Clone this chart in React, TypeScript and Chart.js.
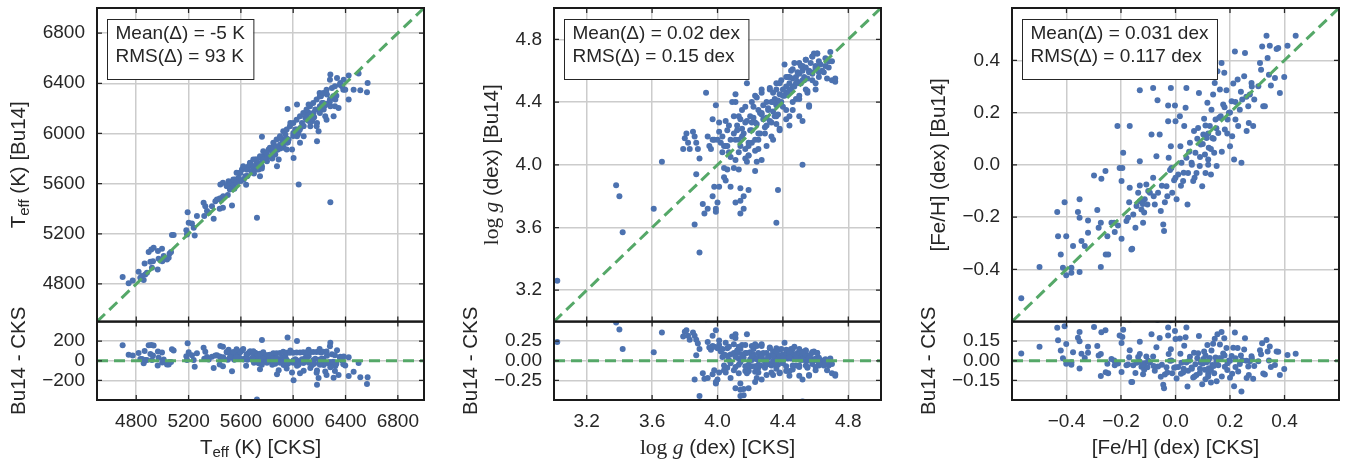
import React, { useEffect, useRef } from 'react';
import Chart from 'chart.js/auto';

// [CKS, Bu14] pairs
const teffPairs = [
  [4696, 4855], [4742, 4805], [4773, 4828], [4818, 4897], [4857, 4831], [4844, 4863], [4864, 4964], [4882, 4890], [4895, 5054], [4915, 5075],
  [4933, 5089], [4908, 4977], [4928, 4982], [4964, 4916], [4971, 5001], [4966, 5062], [4997, 5081], [5010, 5022], [5035, 4996], [5048, 5009],
  [5055, 5043], [5066, 5054], [4999, 4982], [4920, 4929], [4831, 4850], [4869, 4876], [5073, 5190], [5086, 5190], [5183, 5229], [5193, 5372],
  [5201, 5288], [5226, 5282], [5188, 5195], [5247, 5187], [5239, 5248], [5264, 5341], [5315, 5447], [5328, 5420], [5341, 5381], [5354, 5367],
  [5320, 5341], [5392, 5319], [5379, 5420], [5405, 5460], [5417, 5473], [5438, 5481], [5456, 5487], [5463, 5407], [5438, 5399], [5532, 5426],
  [5443, 5593], [5463, 5606], [5494, 5580], [5506, 5619], [5519, 5601], [5532, 5566], [5545, 5593], [5557, 5633], [5570, 5606], [5583, 5646],
  [5596, 5686], [5608, 5712], [5621, 5633], [5634, 5659], [5647, 5712], [5659, 5739], [5672, 5766], [5685, 5699], [5698, 5739], [5710, 5792],
  [5723, 5766], [5736, 5712], [5749, 5805], [5761, 5739], [5774, 5819], [5787, 5845], [5799, 5779], [5812, 5872], [5825, 5819], [5838, 5858],
  [5850, 5898], [5863, 5832], [5876, 5739], [5889, 5792], [5901, 5911], [5914, 5951], [5927, 5885], [5940, 5991], [5952, 5925], [5965, 5951],
  [5978, 6084], [5991, 5872], [6003, 5805], [6016, 6031], [6029, 5978], [6042, 5593], [6284, 5452], [5723, 5328], [5761, 5973], [6054, 6044],
  [6067, 6084], [6080, 5978], [6093, 6124], [6105, 6150], [6118, 6230], [6131, 6058], [6143, 6097], [6156, 6164], [6169, 6190], [6182, 5938],
  [6194, 6018], [6202, 6323], [6212, 6296], [6220, 6243], [6233, 6190], [6245, 6137], [6258, 6310], [6271, 6243], [6284, 6469], [6296, 6363],
  [6309, 6137], [6322, 6270], [6335, 6442], [6347, 6203], [6360, 6402], [6373, 6376], [6386, 6429], [6398, 6349], [6424, 6461], [6424, 6270],
  [6462, 6349], [6500, 6477], [6513, 6344], [6564, 6328], [6569, 6402], [5957, 6195], [6029, 6230], [6118, 6164], [6182, 6084], [6284, 6217],
  [5600, 5620], [5640, 5590], [5680, 5700], [5720, 5740], [5760, 5720], [5800, 5820], [5840, 5800], [5880, 5870], [5920, 5900], [5960, 5930],
  [6000, 5980], [6040, 6000], [6080, 6060], [6120, 6100], [6160, 6130], [6200, 6180], [6240, 6220], [6280, 6250], [5550, 5560], [5500, 5510],
  [5450, 5470], [5650, 5660], [5700, 5680], [5750, 5760], [5850, 5830], [5900, 5880], [5950, 5960], [6050, 6030], [6150, 6120], [6250, 6230],
  [6300, 6280], [6330, 6300],
  [5491, 5580], [5542, 5633], [5593, 5686], [5644, 5712], [5669, 5765], [5695, 5739], [5720, 5792], [5746, 5818], [5771, 5858], [5797, 5845],
  [5822, 5885], [5848, 5925], [5873, 5951], [5899, 5978], [5924, 6017], [5950, 6031], [5975, 6057], [6001, 6084], [6026, 6110], [6052, 6137],
  [6077, 6163], [6102, 6190], [6128, 6216], [6153, 6243], [6179, 6270], [6204, 6296], [6230, 6323], [6255, 6349], [5567, 5686], [5618, 5739],
  [5695, 5792], [5771, 5792], [5848, 5871], [5924, 5925], [6001, 6004], [6077, 6057], [6153, 6137], [6204, 6163], [6230, 6243], [6281, 6270],
  [6306, 6296], [6204, 6216], [6102, 6110], [6026, 6031], [5950, 5951], [5873, 5898], [5797, 5792], [5720, 5712], [5644, 5659], [5567, 5606],
  [5516, 5553], [5465, 5500], [6281, 6429], [6319, 6376], [6357, 6389], [6383, 6349], [5950, 5871], [6052, 5925], [6179, 6057], [5746, 5659],
  [6255, 6110], [6319, 6216],
];

const loggPairs = [
  [3.93, 4.46], [3.66, 4.02], [3.38, 3.87], [3.40, 3.80], [3.80, 4.17], [3.81, 4.20], [3.85, 4.21], [3.86, 4.18], [3.87, 4.14], [3.82, 4.14],
  [3.79, 4.10], [3.83, 4.10], [3.88, 4.10], [3.89, 4.04], [3.94, 4.18], [3.95, 4.12], [3.96, 4.10], [3.99, 4.38], [3.97, 4.29], [3.98, 4.16],
  [4.00, 4.16], [4.01, 4.21], [4.02, 4.14], [4.03, 4.18], [4.04, 4.12], [4.05, 4.28], [4.06, 4.22], [4.07, 4.08], [4.08, 4.16], [4.10, 4.31],
  [4.11, 4.40], [4.11, 4.45], [4.12, 4.22], [4.13, 4.16], [4.14, 4.29], [4.15, 4.35], [4.16, 4.20], [4.17, 4.27], [4.18, 4.52], [4.19, 4.12],
  [4.20, 4.31], [4.21, 4.22], [4.22, 4.37], [4.23, 4.27], [4.24, 4.43], [4.25, 4.16], [4.26, 4.33], [4.27, 4.48], [4.28, 4.29], [4.29, 4.20],
  [4.30, 4.40], [4.31, 4.35], [4.32, 4.49], [4.33, 4.27], [4.34, 4.46], [4.35, 4.31], [4.36, 4.52], [4.37, 4.41], [4.38, 4.22], [4.39, 4.54],
  [4.40, 4.37], [4.41, 4.64], [4.42, 4.46], [4.43, 4.56], [4.44, 4.31], [4.45, 4.60], [4.46, 4.50], [4.47, 4.65], [4.48, 4.42], [4.49, 4.59],
  [4.50, 4.52], [4.51, 4.63], [4.52, 4.28], [4.53, 4.54], [4.54, 4.67], [4.55, 4.46], [4.56, 4.38], [4.57, 4.59], [4.58, 4.69], [4.59, 4.71],
  [4.60, 4.63], [4.61, 4.71], [4.62, 4.56], [4.63, 4.64], [4.65, 4.59], [4.67, 4.55], [4.68, 4.66], [4.69, 4.72], [4.70, 4.54], [4.72, 4.53],
  [4.52, 4.00], [4.17, 4.04], [4.18, 4.02], [4.23, 3.96], [4.24, 4.02], [4.27, 4.03], [4.04, 3.98], [4.06, 3.97], [4.10, 3.98], [4.13, 3.97],
  [3.42, 3.57], [3.61, 3.72], [3.02, 3.26], [3.89, 3.44], [3.86, 3.62], [3.91, 3.75], [3.92, 3.69], [3.94, 3.72], [3.87, 3.94], [3.97, 3.80],
  [3.98, 3.86], [4.01, 3.86], [3.99, 3.72], [3.99, 3.70], [4.00, 3.76], [4.04, 3.92], [4.05, 3.90], [4.08, 3.86], [4.11, 3.76], [4.14, 3.85],
  [4.14, 3.77], [4.16, 3.80], [4.16, 3.72], [4.14, 3.69], [4.19, 3.84], [4.37, 3.84], [4.36, 3.63],
  [4.10, 4.20], [4.12, 4.25], [4.15, 4.18], [4.18, 4.28], [4.20, 4.22], [4.22, 4.30], [4.24, 4.26], [4.25, 4.35], [4.27, 4.32], [4.28, 4.38],
  [4.30, 4.30], [4.31, 4.36], [4.32, 4.28], [4.33, 4.40], [4.34, 4.34], [4.35, 4.42], [4.36, 4.38], [4.37, 4.32], [4.38, 4.45], [4.39, 4.40],
  [4.40, 4.48], [4.41, 4.44], [4.42, 4.50], [4.43, 4.46], [4.44, 4.52], [4.45, 4.48], [4.46, 4.55], [4.47, 4.50], [4.48, 4.56], [4.49, 4.53],
  [4.50, 4.58], [4.51, 4.52], [4.52, 4.60], [4.53, 4.56], [4.54, 4.62], [4.55, 4.55], [4.56, 4.60], [4.57, 4.65], [4.58, 4.58], [4.60, 4.62],
  [4.62, 4.66], [4.64, 4.60], [4.66, 4.68], [4.68, 4.62], [4.70, 4.66], [4.72, 4.55], [4.26, 4.20], [4.29, 4.24], [4.21, 4.14], [4.17, 4.10],
  [4.14, 4.12], [4.08, 4.05], [4.06, 4.12], [4.03, 4.08], [4.11, 4.03], [4.19, 4.06], [4.23, 4.09], [4.33, 4.18], [4.36, 4.26], [4.42, 4.35],
  [4.46, 4.40], [4.50, 4.44], [4.55, 4.47], [4.60, 4.52],
  [4.09, 4.40], [4.13, 4.31], [4.17, 4.37], [4.21, 4.27], [4.23, 4.44], [4.25, 4.20], [4.27, 4.33], [4.30, 4.25], [4.32, 4.48], [4.34, 4.40],
  [4.36, 4.31], [4.38, 4.52], [4.40, 4.44], [4.42, 4.56], [4.44, 4.48], [4.46, 4.61], [4.48, 4.52], [4.50, 4.65], [4.52, 4.54], [4.54, 4.67],
  [4.56, 4.59], [4.58, 4.69], [4.60, 4.61], [4.61, 4.71], [4.07, 4.25], [4.11, 4.16], [4.15, 4.23], [4.19, 4.14], [4.23, 4.16], [4.01, 4.27],
  [3.97, 4.16], [4.05, 4.12], [4.30, 4.12], [4.34, 4.16], [4.38, 4.23], [4.42, 4.29], [4.46, 4.35], [4.50, 4.42], [4.54, 4.48], [4.58, 4.54],
  [4.62, 4.59], [4.66, 4.63], [4.21, 4.40], [4.27, 4.46], [4.36, 4.48], [4.44, 4.56], [4.52, 4.63], [4.13, 4.08], [4.19, 4.06], [4.25, 4.10],
  [4.44, 4.25], [4.50, 4.31], [4.56, 4.37], [4.60, 4.48],
];

const fehPairs = [
  [-0.566, -0.511], [-0.499, -0.391], [-0.434, -0.181], [-0.407, -0.143], [-0.352, -0.132], [-0.358, -0.181], [-0.352, -0.203], [-0.401, -0.273], [-0.431, -0.273], [-0.421, -0.343],
  [-0.413, -0.394], [-0.401, -0.423], [-0.382, -0.394], [-0.382, -0.413], [-0.352, -0.410], [-0.376, -0.311], [-0.345, -0.292], [-0.333, -0.311], [-0.321, -0.213], [-0.321, -0.260],
  [-0.287, -0.173], [-0.282, -0.241], [-0.274, -0.222], [-0.274, -0.391], [-0.299, -0.041], [-0.272, -0.053], [-0.257, -0.024], [-0.256, -0.343], [-0.247, -0.343], [-0.250, -0.273],
  [-0.235, -0.222], [-0.225, -0.222], [-0.223, -0.257], [-0.211, -0.232], [-0.195, -0.012], [-0.198, -0.062], [-0.198, -0.283], [-0.180, -0.215], [-0.174, -0.203], [-0.170, -0.143],
  [-0.168, -0.088], [-0.162, -0.324], [-0.155, -0.190], [-0.147, -0.241], [-0.143, -0.158], [-0.137, -0.107], [-0.131, 0.014], [-0.131, -0.079], [-0.131, -0.139], [-0.125, -0.171],
  [-0.119, -0.222], [-0.115, -0.183], [-0.113, -0.132], [-0.107, -0.075], [-0.103, -0.152], [-0.094, -0.107], [-0.088, 0.116], [-0.082, -0.050], [-0.076, -0.152], [-0.070, 0.033],
  [-0.066, 0.247], [-0.064, -0.107], [-0.058, 0.116], [-0.054, -0.177], [-0.045, -0.228], [-0.042, -0.253], [-0.039, -0.143], [-0.033, -0.082], [-0.027, 0.167], [-0.027, 0.227],
  [-0.025, 0.027], [-0.017, 0.071], [-0.015, -0.012], [-0.012, -0.107], [-0.005, -0.059], [-0.002, 0.227], [0.000, 0.167], [0.004, -0.132], [0.010, -0.037], [0.016, 0.186],
  [0.018, 0.071], [0.022, 0.008], [0.028, -0.062], [0.032, 0.148], [0.037, 0.218], [0.040, 0.027], [0.040, 0.294], [0.044, -0.152], [0.046, -0.031], [0.053, 0.084],
  [0.059, 0.008], [0.065, -0.062], [0.068, 0.129], [0.073, 0.046], [0.077, -0.031], [0.083, 0.141], [0.086, 0.275], [0.089, -0.005], [0.093, 0.078], [0.098, -0.082],
  [0.102, 0.116], [0.105, 0.176], [0.108, 0.039], [0.110, -0.031], [0.114, 0.103], [0.117, 0.237], [0.120, 0.020], [0.122, 0.065], [0.126, 0.148], [0.130, -0.037],
  [0.132, 0.211], [0.135, 0.103], [0.138, 0.269], [0.142, 0.046], [0.144, 0.313], [0.147, 0.173], [0.151, -0.005], [0.154, 0.358], [0.157, 0.122], [0.163, 0.288],
  [0.166, 0.186], [0.169, 0.390], [0.175, 0.231], [0.179, 0.352], [0.181, 0.135], [0.187, 0.285], [0.191, 0.173], [0.196, 0.199], [0.200, 0.071], [0.206, 0.243],
  [0.208, 0.109], [0.212, 0.311], [0.215, 0.020], [0.218, 0.434], [0.220, 0.173], [0.228, 0.326], [0.230, 0.148], [0.236, 0.211], [0.242, 0.008], [0.245, 0.250],
  [0.252, 0.339], [0.255, 0.428], [0.261, 0.129], [0.267, 0.224], [0.269, 0.160], [0.273, 0.269], [0.279, 0.313], [0.285, 0.148], [0.289, 0.250], [0.304, 0.301],
  [0.310, 0.390], [0.314, 0.364], [0.318, 0.453], [0.322, 0.224], [0.328, 0.224], [0.334, 0.494], [0.338, 0.409], [0.343, 0.345], [0.346, 0.456], [0.350, 0.303],
  [0.365, 0.332], [0.371, 0.443], [0.377, 0.447], [0.383, 0.275], [0.399, 0.336], [0.411, 0.456], [0.441, 0.494], [-0.131, 0.285], [-0.082, 0.294], [-0.017, 0.294],
  [-0.213, 0.148], [-0.168, 0.148], [-0.192, 0.046], [-0.205, -0.012], [-0.159, -0.321],
  [0.05, 0.05], [0.08, 0.10], [0.10, 0.08], [0.12, 0.12], [0.13, 0.06], [0.11, 0.15], [0.09, 0.03], [0.06, 0.00], [0.03, -0.03], [0.00, -0.05],
  [-0.02, -0.02], [-0.05, -0.08], [-0.08, -0.12], [-0.10, -0.10], [-0.12, -0.15], [0.14, 0.10], [0.15, 0.14], [0.16, 0.18], [0.18, 0.22], [0.20, 0.20],
  [0.22, 0.24], [0.24, 0.28], [0.26, 0.26], [0.28, 0.30], [0.17, 0.05], [0.12, 0.00], [0.07, -0.05], [0.02, -0.08], [-0.03, -0.12], [0.19, 0.12],
];

const teffRange = [4500, 7000];
const teffTicks = [4800, 5200, 5600, 6000, 6400, 6800];
const teffDiffRange = [-400, 400];
const teffDiffTicks = [-200, 0, 200];
const teffStats = ['Mean(\u0394) = -5 K', 'RMS(\u0394) = 93 K'];

const loggRange = [3.0, 5.0];
const loggTicks = [3.2, 3.6, 4.0, 4.4, 4.8];
const loggDiffRange = [-0.5, 0.5];
const loggDiffTicks = [-0.25, 0, 0.25];
const loggStats = ['Mean(\u0394) = 0.02 dex', 'RMS(\u0394) = 0.15 dex'];

const fehRange = [-0.6, 0.6];
const fehTicks = [-0.4, -0.2, 0, 0.2, 0.4];
const fehDiffRange = [-0.3, 0.3];
const fehDiffTicks = [-0.15, 0, 0.15];
const fehStats = ['Mean(\u0394) = 0.031 dex', 'RMS(\u0394) = 0.117 dex'];

const BLUE = '#4c72b0';
const GREEN = '#55a868';
const GRID = '#cccccc';
const INK = '#262626';
const SANS = '"Liberation Sans", Arial, sans-serif';
const SERIF = '"Liberation Serif", "DejaVu Serif", serif';
const FS = 19;
const TS = 20.5;

type Seg = { t: string; kind?: 'serif' | 'italic' | 'sub' };

const fmt = (v: number, digits: number) => {
  const s = Math.abs(v).toFixed(digits);
  return v < -1e-9 ? '\u2212' + s : s;
};

const segFont = (s: Seg) => {
  if (s.kind === 'serif') return `${TS + 1}px ${SERIF}`;
  if (s.kind === 'italic') return `italic ${TS + 1}px ${SERIF}`;
  if (s.kind === 'sub') return `${Math.round(TS * 0.72)}px ${SANS}`;
  return `${TS}px ${SANS}`;
};

function drawRich(ctx: CanvasRenderingContext2D, segs: Seg[], cx: number, cy: number, vertical: boolean) {
  ctx.save();
  ctx.translate(cx, cy);
  if (vertical) ctx.rotate(-Math.PI / 2);
  ctx.textBaseline = 'middle';
  ctx.textAlign = 'left';
  ctx.fillStyle = INK;
  const widths = segs.map((s) => {
    ctx.font = segFont(s);
    return ctx.measureText(s.t).width;
  });
  let x = -widths.reduce((a, b) => a + b, 0) / 2;
  segs.forEach((s, i) => {
    ctx.font = segFont(s);
    ctx.fillText(s.t, x, s.kind === 'sub' ? 5 : 0);
    x += widths[i];
  });
  ctx.restore();
}

interface PanelProps {
  left: number;
  width: number;
  axisWidth: number;
  pairs: number[][];
  range: number[];
  ticks: number[];
  diffRange: number[];
  diffTicks: number[];
  digits: number;
  diffDigits: number;
  stats: string[];
  xTitle: Seg[];
  yTitle: Seg[];
}

const diffTitle: Seg[] = [{ t: 'Bu14 - CKS' }];

function makeDecor(p: PanelProps) {
  return {
    id: 'decor',
    afterDraw(chart: any) {
      const ctx: CanvasRenderingContext2D = chart.ctx;
      const xs = chart.scales.x;
      const ym = chart.scales.y;
      const yd = chart.scales.yDiff;
      const L = xs.left;
      const R = xs.right;
      ctx.save();

      // inward tick marks on every side
      ctx.strokeStyle = INK;
      ctx.lineWidth = 1.25;
      ctx.beginPath();
      for (const t of xs.ticks) {
        const px = xs.getPixelForValue(t.value);
        const edges: [number, number][] = [[ym.top, 1], [ym.bottom, -1], [yd.top, 1], [yd.bottom, -1]];
        for (const [yy, dir] of edges) {
          ctx.moveTo(px, yy);
          ctx.lineTo(px, yy + dir * 5);
        }
      }
      for (const sc of [ym, yd]) {
        for (const t of sc.ticks) {
          const py = sc.getPixelForValue(t.value);
          ctx.moveTo(L, py);
          ctx.lineTo(L + 5, py);
          ctx.moveTo(R, py);
          ctx.lineTo(R - 5, py);
        }
      }
      ctx.stroke();

      // stats box
      ctx.font = `${FS}px ${SANS}`;
      const tw = Math.max(...p.stats.map((s) => ctx.measureText(s).width));
      const bx = L + 10;
      const by = ym.top + 11;
      ctx.fillStyle = '#ffffff';
      ctx.fillRect(bx, by, tw + 17, 60);
      ctx.lineWidth = 1;
      ctx.strokeStyle = INK;
      ctx.strokeRect(bx + 0.5, by + 0.5, tw + 17, 60);
      ctx.fillStyle = INK;
      ctx.textBaseline = 'middle';
      ctx.textAlign = 'left';
      p.stats.forEach((s, i) => ctx.fillText(s, bx + 8.5, by + 15 + i * 23));

      // frames
      ctx.lineWidth = 2;
      ctx.strokeStyle = '#1a1a1a';
      ctx.strokeRect(L, ym.top, R - L, ym.bottom - ym.top);
      ctx.strokeRect(L, yd.top, R - L, yd.bottom - yd.top);

      // axis titles, placed clear of the widest tick label
      const widest = (sc: any) => {
        ctx.font = `${FS}px ${SANS}`;
        return Math.max(...sc.ticks.map((t: any) => ctx.measureText(String(t.label)).width));
      };
      drawRich(ctx, p.yTitle, L - widest(ym) - 35, (ym.top + ym.bottom) / 2, true);
      drawRich(ctx, diffTitle, L - widest(yd) - 35, (yd.top + yd.bottom) / 2, true);
      drawRich(ctx, p.xTitle, (L + R) / 2, xs.top + 48, false);
      ctx.restore();
    },
  };
}

const Panel: React.FC<PanelProps> = (p) => {
  const chartRef = useRef<HTMLCanvasElement>(null);

  useEffect(() => {
    if (!chartRef.current) return;
    const context = chartRef.current.getContext('2d');
    if (!context) return;

    const tickFont = { family: SANS, size: FS };
    const noPad = (s: any) => {
      s.paddingTop = 0;
      s.paddingBottom = 0;
      s.paddingLeft = 0;
      s.paddingRight = 0;
    };
    const axis = (min: number, max: number, ticks: number[], digits: number, pad: number) => ({
      type: 'linear' as const,
      min,
      max,
      afterBuildTicks: (s: any) => {
        s.ticks = ticks.map((v) => ({ value: v }));
      },
      grid: { color: GRID, lineWidth: 1.5, drawTicks: false },
      border: { display: false },
      ticks: {
        color: INK,
        font: tickFont,
        padding: pad,
        autoSkip: false,
        maxRotation: 0,
        callback: (v: any) => fmt(Number(v), digits),
      },
    });
    const dashed = {
      showLine: true,
      pointRadius: 0,
      borderColor: GREEN,
      borderWidth: 3,
      borderDash: [11, 6],
      order: 0,
    };
    const dots = {
      pointRadius: 3,
      pointHoverRadius: 3,
      pointBackgroundColor: BLUE,
      pointBorderWidth: 0,
      order: 1,
    };

    const chart = new Chart(context, {
      type: 'scatter',
      data: {
        datasets: [
          {
            ...dashed,
            data: [{ x: p.range[0], y: p.range[0] }, { x: p.range[1], y: p.range[1] }],
            yAxisID: 'y',
          },
          {
            ...dashed,
            data: [{ x: p.range[0], y: 0 }, { x: p.range[1], y: 0 }],
            yAxisID: 'yDiff',
          },
          {
            ...dots,
            data: p.pairs.map(([c, b]) => ({ x: c, y: b })),
            yAxisID: 'y',
          },
          {
            ...dots,
            data: p.pairs.map(([c, b]) => ({ x: c, y: b - c })),
            yAxisID: 'yDiff',
          },
        ],
      },
      options: {
        animation: false,
        responsive: false,
        events: [],
        layout: { padding: { top: 8, right: p.width - p.axisWidth - 327, bottom: 1, left: 0 } },
        plugins: { legend: { display: false }, tooltip: { enabled: false } },
        scales: {
          x: {
            ...axis(p.range[0], p.range[1], p.ticks, p.digits, 10),
            position: 'bottom',
            afterFit: (s: any) => {
              s.height = 62;
              noPad(s);
            },
          },
          yDiff: {
            ...axis(p.diffRange[0], p.diffRange[1], p.diffTicks, p.diffDigits, 12),
            position: 'left',
            stack: 'panel',
            stackWeight: 1,
            afterFit: (s: any) => {
              s.width = p.axisWidth;
              noPad(s);
            },
          },
          y: {
            ...axis(p.range[0], p.range[1], p.ticks, p.digits, 12),
            position: 'left',
            stack: 'panel',
            stackWeight: 4,
            afterFit: (s: any) => {
              s.width = p.axisWidth;
              noPad(s);
            },
          },
        },
      } as any,
      plugins: [makeDecor(p)],
    });

    return () => {
      chart.destroy();
    };
  }, [p]);

  return (
    <canvas
      ref={chartRef}
      width={p.width}
      height={463}
      style={{ position: 'absolute', left: p.left, top: 0, display: 'block' }}
    />
  );
};

const panels: PanelProps[] = [
  {
    left: 0, width: 440, axisWidth: 97,
    pairs: teffPairs, range: teffRange, ticks: teffTicks, diffRange: teffDiffRange, diffTicks: teffDiffTicks,
    digits: 0, diffDigits: 0, stats: teffStats,
    xTitle: [{ t: 'T' }, { t: 'eff', kind: 'sub' }, { t: ' (K) [CKS]' }],
    yTitle: [{ t: 'T' }, { t: 'eff', kind: 'sub' }, { t: ' (K) [Bu14]' }],
  },
  {
    left: 450, width: 450, axisWidth: 104,
    pairs: loggPairs, range: loggRange, ticks: loggTicks, diffRange: loggDiffRange, diffTicks: loggDiffTicks,
    digits: 1, diffDigits: 2, stats: loggStats,
    xTitle: [{ t: 'log ', kind: 'serif' }, { t: 'g', kind: 'italic' }, { t: ' (dex) [CKS]' }],
    yTitle: [{ t: 'log ', kind: 'serif' }, { t: 'g', kind: 'italic' }, { t: ' (dex) [Bu14]' }],
  },
  {
    left: 900, width: 454, axisWidth: 112,
    pairs: fehPairs, range: fehRange, ticks: fehTicks, diffRange: fehDiffRange, diffTicks: fehDiffTicks,
    digits: 1, diffDigits: 2, stats: fehStats,
    xTitle: [{ t: '[Fe/H] (dex) [CKS]' }],
    yTitle: [{ t: '[Fe/H] (dex) [Bu14]' }],
  },
];

export default function App() {
  return (
    <div style={{ position: 'absolute', left: 0, top: 0, width: 1354, height: 463, background: '#fff' }}>
      {panels.map((p, i) => (
        <Panel key={i} {...p} />
      ))}
    </div>
  );
}
